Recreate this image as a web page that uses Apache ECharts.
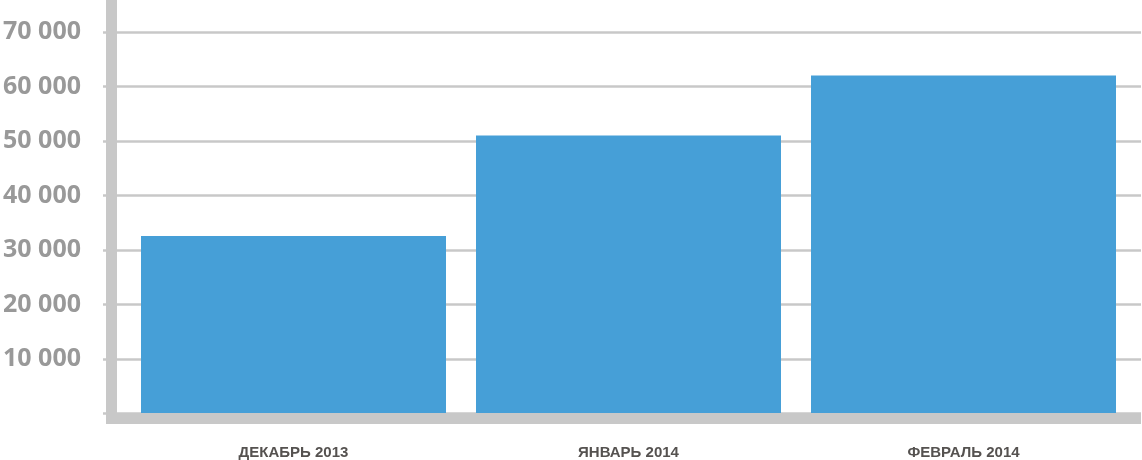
<!DOCTYPE html>
<html>
<head>
<meta charset="utf-8">
<script src="https://cdn.jsdelivr.net/npm/echarts@6/dist/echarts.min.js"></script>
<style>
html,body{margin:0;padding:0;background:#fff;}
#c{width:1142px;height:460px;}
</style>
</head>
<body>
<div id="c"></div>
<script>
const categories = ['ДЕКАБРЬ 2013', 'ЯНВАРЬ 2014', 'ФЕВРАЛЬ 2014'];
const values = [32500, 51000, 62000];
const yMin = 0, yMax = 70000, yInterval = 10000;

const chart = echarts.init(document.getElementById('c'), null, {renderer: 'canvas'});
const axisGray = '#c8c8c8';
chart.setOption({
  animation: false,
  grid: [
    {left: 103, right: 1, top: 32, bottom: 46.5},
    {left: 126, right: 11, top: 32, bottom: 46.5},
    {left: 111.5, right: 6.5, top: 0, bottom: 41.5}
  ],
  xAxis: [
    {gridIndex: 0, type: 'category', data: categories, show: false},
    {gridIndex: 1, type: 'category', data: categories,
     axisLine: {show: false}, axisTick: {show: false},
     axisLabel: {margin: 32, color: '#555250', fontFamily: 'Liberation Sans, Arial, sans-serif', fontWeight: 'bold', fontSize: 15}},
    {gridIndex: 2, type: 'value', min: 0, max: 1,
     axisLine: {show: true, lineStyle: {color: axisGray, width: 11, cap: 'square'}},
     axisTick: {show: false}, axisLabel: {show: false}, splitLine: {show: false}}
  ],
  yAxis: [
    {gridIndex: 0, type: 'value', min: yMin, max: yMax, interval: yInterval,
     axisLine: {show: false}, axisTick: {show: false},
     splitLine: {show: true, lineStyle: {color: axisGray, width: 2.5}},
     axisLabel: {showMinLabel: false, margin: 22, color: '#999999', fontFamily: 'Open Sans, sans-serif', fontWeight: 'bold', fontSize: 25,
       formatter: v => (v / 1000) + ' 000'}},
    {gridIndex: 1, type: 'value', min: yMin, max: yMax, interval: yInterval, show: false},
    {gridIndex: 2, type: 'value', min: 0, max: 1,
     axisLine: {show: true, onZero: false, lineStyle: {color: axisGray, width: 11, cap: 'square'}},
     axisTick: {show: false}, axisLabel: {show: false}, splitLine: {show: false}}
  ],
  series: [{
    type: 'bar', xAxisIndex: 1, yAxisIndex: 1, data: values,
    barWidth: 305, itemStyle: {color: '#469fd7'}
  }]
});
</script>
</body>
</html>
